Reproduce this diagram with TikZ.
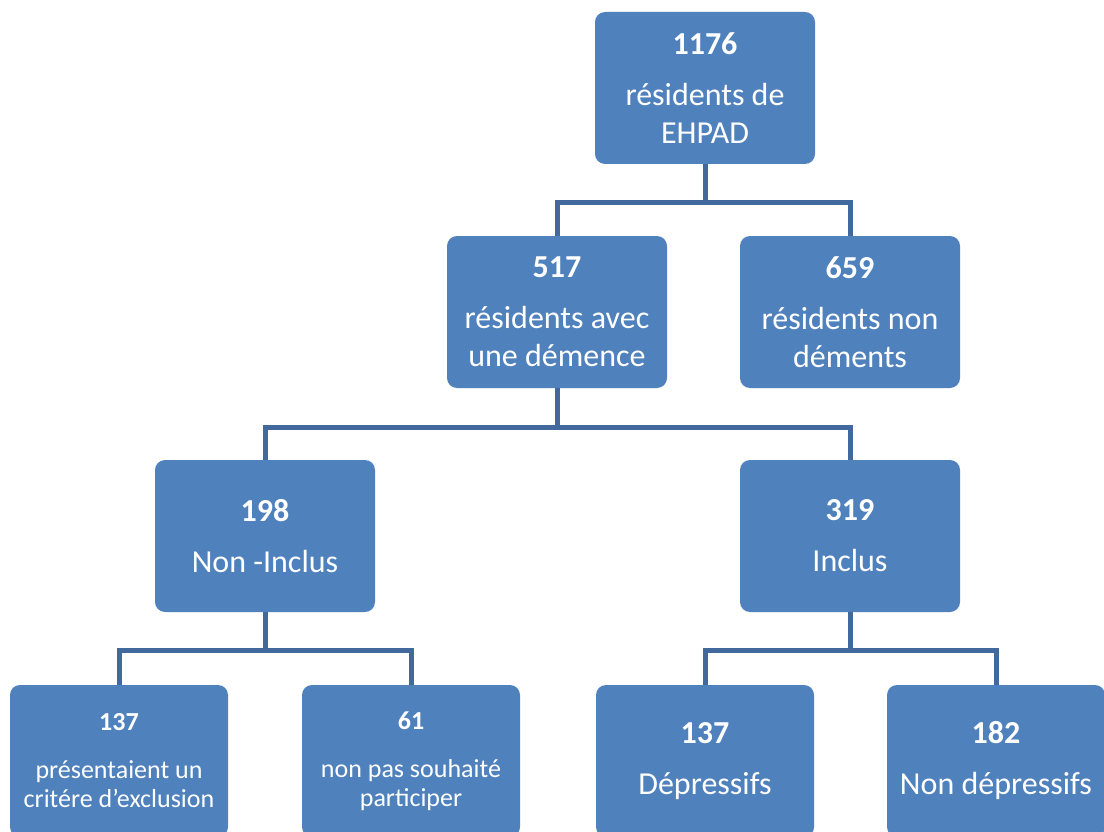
\documentclass[tikz,border=0pt]{standalone}
\usepackage{fontspec}
\setmainfont{Carlito}
\definecolor{boxblue}{HTML}{4F81BD}
\definecolor{lineblue}{HTML}{41699E}
\tikzset{
    box/.style={fill=boxblue, rounded corners=10pt, text=white, align=center,
        minimum width=220pt, minimum height=152pt, inner sep=0pt,
        font=\fontsize{32}{38}\selectfont},
    leafbox/.style={box, minimum width=218pt},
    smallbox/.style={leafbox, font=\fontsize{26}{29}\selectfont},
    link/.style={draw=lineblue, line width=5pt}
}
\begin{document}
\begin{tikzpicture}[x=1pt,y=-1pt]
    \useasboundingbox (0,0) rectangle (1104,832);
    \clip (0,0) rectangle (1104,832);

    \node[box] (A) at (705,88) {\textbf{1176}\\[13pt]résidents de\\EHPAD};
    \node[box] (B) at (557,312) {\textbf{517}\\[13pt]résidents avec\\une démence};
    \node[box] (C) at (850,312) {\textbf{659}\\[13pt]résidents non\\déments};
    \node[box] (D) at (265,536) {\textbf{198}\\[13pt]Non -Inclus};
    \node[box] (E) at (850,536) {\textbf{319}\\[13pt]Inclus};
    \node[smallbox] (F) at (119,761) {\textbf{137}\\[19pt]présentaient un\\critére d{\char"27}exclusion};
    \node[smallbox] (G) at (411,761) {\textbf{61}\\[19pt]non pas souhaité\\participer};
    \node[leafbox] (H) at (705,761) {\textbf{137}\\[13pt]Dépressifs};
    \node[leafbox] (I) at (996,761) {\textbf{182}\\[13pt]Non dépressifs};

    \draw[link] (A.south) -- ++(0,38) -| (B.north);
    \draw[link] (A.south) -- ++(0,38) -| (C.north);
    \draw[link] (B.south) -- ++(0,39) -| (D.north);
    \draw[link] (B.south) -- ++(0,39) -| (E.north);
    \draw[link] (D.south) -- ++(0,38) -| (F.north);
    \draw[link] (D.south) -- ++(0,38) -| (G.north);
    \draw[link] (E.south) -- ++(0,38) -| (H.north);
    \draw[link] (E.south) -- ++(0,38) -| (I.north);

\end{tikzpicture}
\end{document}
